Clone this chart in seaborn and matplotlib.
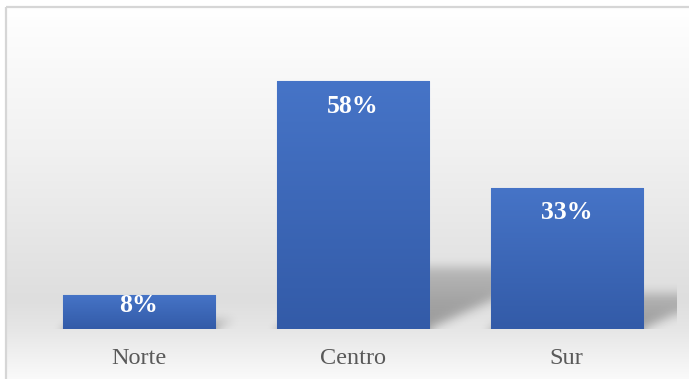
import numpy as np
import pandas as pd
import matplotlib
matplotlib.use("Agg")
import matplotlib.pyplot as plt
from matplotlib.patches import Rectangle
import seaborn as sns

# ---- data -------------------------------------------------------------
regions = ["Norte", "Centro", "Sur"]
shares = [8, 58, 33]
value_labels = ["8%", "58%", "33%"]

# ---- figure setup -----------------------------------------------------
W, H, DPI = 689, 379, 100
sns.set_theme(style="white")
plt.rcParams["font.family"] = ["Liberation Serif", "DejaVu Serif"]

fig = plt.figure(figsize=((W + 0.01) / DPI, (H + 0.01) / DPI), dpi=DPI)
fig.patch.set_facecolor("white")

# chart-area backdrop: one grey level per pixel row, inside a thin frame
bg = fig.add_axes([0, 0, 1, 1])
bg.axis("off")
rows = np.arange(H)
shade = np.interp(rows, [7, 150, 300, 329, 379], [255, 241, 222, 230, 250]) / 255
canvas = np.ones((H, W, 3))
canvas[7:, 6:, :] = shade[7:, None, None]
bg.imshow(canvas, extent=[0, W, H, 0], aspect="auto", interpolation="nearest")
bg.add_patch(Rectangle((6, 7.5), W + 60, H + 60, fill=False,
                       edgecolor="#d6d6d6", lw=1.6))
bg.set_xlim(0, W)
bg.set_ylim(H, 0)

# plot area
ax_l, ax_r, ax_t, ax_b = 9, 676, 20, 329
ax = fig.add_axes([ax_l / W, (H - ax_b) / H, (ax_r - ax_l) / W, (ax_b - ax_t) / H])
ax.patch.set_alpha(0)

df = pd.DataFrame({"region": regions, "share": shares})
sns.barplot(data=df, x="region", y="share", ax=ax, width=0.711,
            color="#4472C4", saturation=1, edgecolor="#7098da",
            linewidth=0.8, zorder=3)

x0_lim, x1_lim = -0.608, 2.512
y_top = 72.3
ax.set_xlim(x0_lim, x1_lim)
ax.set_ylim(0, y_top)

nx, ny = ax_r - ax_l, ax_b - ax_t
px_x = nx / (x1_lim - x0_lim)
px_y = ny / y_top

# ---- perspective drop shadows behind the bars ---------------------------
xs = np.linspace(x0_lim, x1_lim, nx)
ys = np.linspace(0, y_top, ny)
X, Y = np.meshgrid(xs, ys)
alpha = np.zeros_like(X)
for patch, v in zip(ax.patches, shares):
    bx0 = patch.get_x()
    bx1 = bx0 + patch.get_width()
    h = 0.25 * v
    shift = Y * px_y * 2.2 / px_x
    inside = (Y <= h) & (X >= bx0 + shift) & (X <= bx1 + shift)
    fade = np.clip(1.0 - 0.45 * Y / max(h, 1e-6), 0, 1)
    alpha = np.maximum(alpha, inside * fade)


def blur(a, sigma):
    r = int(3 * sigma)
    k = np.exp(-0.5 * (np.arange(-r, r + 1) / sigma) ** 2)
    k /= k.sum()
    pad = np.pad(a, r, mode="edge")
    out = np.apply_along_axis(lambda m: np.convolve(m, k, mode="valid"), 1, pad)
    out = np.apply_along_axis(lambda m: np.convolve(m, k, mode="valid"), 0, out)
    return out


alpha = blur(alpha, 5.0) * 0.33
shadow = np.zeros((ny, nx, 4))
shadow[..., 3] = alpha
ax.imshow(shadow, extent=[x0_lim, x1_lim, 0, y_top], origin="lower",
          aspect="auto", zorder=1, interpolation="bilinear")

# ---- vertical gradient fill on the bars ---------------------------------
top_c = np.array([70, 116, 199]) / 255
bot_c = np.array([51, 91, 168]) / 255
tvals = np.linspace(0, 1, 64)[:, None]
bar_grad = (top_c[None, :] * (1 - tvals) + bot_c[None, :] * tvals)[:, None, :]
for patch in ax.patches:
    bx, bw, bh = patch.get_x(), patch.get_width(), patch.get_height()
    im = ax.imshow(bar_grad, extent=[bx, bx + bw, 0, bh], origin="upper",
                   aspect="auto", zorder=3.5, interpolation="bilinear")
    im.set_clip_path(patch)

ax.set_xlim(x0_lim, x1_lim)
ax.set_ylim(0, y_top)

# ---- value labels inside the top of each bar ----------------------------
for i, (v, lab) in enumerate(zip(shares, value_labels)):
    off = min(25, 0.31 * v * px_y)
    ax.annotate(lab, (i, v), xytext=(0, -off), textcoords="offset pixels",
                ha="center", va="center", color="white", fontsize=18.5,
                fontweight="bold", zorder=6)

# ---- axes styling --------------------------------------------------------
for s in ax.spines.values():
    s.set_visible(False)
ax.set_yticks([])
ax.set_xlabel("")
ax.set_ylabel("")
ax.tick_params(axis="x", length=0, pad=13.5, labelsize=17.5, labelcolor="#595959")

fig.savefig("out.png", dpi=DPI)
